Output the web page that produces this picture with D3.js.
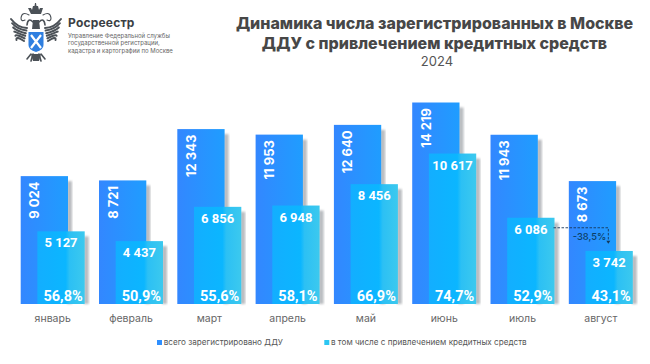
<!DOCTYPE html>
<html>
<head>
<meta charset="utf-8">
<script src="https://cdn.jsdelivr.net/npm/d3@7"></script>
<style>
    html, body {margin: 0; padding: 0; background: #fff;}
    svg {display: block; font-family: Inter, Roboto, sans-serif;}
</style>
</head>
<body>
<script>
const months = ['январь', 'февраль', 'март', 'апрель', 'май', 'июнь', 'июль', 'август'];
const total = [9024, 8721, 12343, 11953, 12640, 14219, 11943, 8673];
const credit = [5127, 4437, 6856, 6948, 8456, 10617, 6086, 3742];
const shares = [56.8, 50.9, 55.6, 58.1, 66.9, 74.7, 52.9, 43.1];
const legendLabels = ['всего зарегистрировано ДДУ', 'в том числе с привлечением кредитных средств'];
const orgLines = ['Управление Федеральной службы', 'государственной регистрации,', 'кадастра и картографии по Москве'];
const change = -38.5;

const dim = {width: 650, height: 364, base: 304, barWidth: 47.3, offset: 16.7};
const svg = d3.select('body').append('svg').attr('width', dim.width).attr('height', dim.height);

const locale = d3.formatLocale({decimal: ',', thousands: ' ', grouping: [3], currency: ['', ''], minus: '-'});
const fmt = locale.format(',d');
const pct = locale.format('.1f');

const x = d3.scaleBand().domain(months).range([20.7, 633.1]).paddingInner(0.179).paddingOuter(0).align(0);
const y = d3.scaleLinear().domain([0, 14219]).range([dim.base, 102.5]);

// Gradients and shadow blur
const defs = svg.append('defs');
const bigGrad = defs.append('linearGradient').attr('id', 'bigFill').attr('x1', 0).attr('x2', 1).attr('y1', 0).attr('y2', 0);
[[0, '#3387ff'], [1, '#1f9dff']].forEach(s =>
    bigGrad.append('stop').attr('offset', s[0]).attr('stop-color', s[1]));
const smallGrad = defs.append('linearGradient').attr('id', 'smallFill').attr('x1', 0).attr('x2', 1).attr('y1', 0).attr('y2', 0);
[[0, '#13aeff'], [0.6, '#0bb6ff'], [0.68, '#2cc0f4'], [1, '#3cc9ee']].forEach(s =>
    smallGrad.append('stop').attr('offset', s[0]).attr('stop-color', s[1]));
defs.append('filter').attr('id', 'soft').append('feGaussianBlur').attr('stdDeviation', 1);

// Bars
const group = svg.selectAll('g.month').data(months).join('g').attr('class', 'month')
    .attr('transform', d => `translate(${x(d)},0)`);

group.append('rect').attr('class', 'shadow')
    .attr('x', dim.barWidth - 1).attr('width', 5)
    .attr('y', (d, i) => y(total[i]) + 5).attr('height', (d, i) => dim.base - y(total[i]) - 5)
    .attr('fill', '#b9bcc0').attr('filter', 'url(#soft)');
group.append('rect').attr('class', 'total')
    .attr('width', dim.barWidth)
    .attr('y', (d, i) => y(total[i])).attr('height', (d, i) => dim.base - y(total[i]))
    .attr('fill', 'url(#bigFill)');
group.append('rect').attr('class', 'shadow')
    .attr('x', dim.offset + dim.barWidth - 1).attr('width', 5)
    .attr('y', (d, i) => y(credit[i]) + 5).attr('height', (d, i) => dim.base - y(credit[i]) - 5)
    .attr('fill', '#b9bcc0').attr('filter', 'url(#soft)');
group.append('rect').attr('class', 'credit')
    .attr('x', dim.offset).attr('width', dim.barWidth)
    .attr('y', (d, i) => y(credit[i])).attr('height', (d, i) => dim.base - y(credit[i]))
    .attr('fill', 'url(#smallFill)');

// Value labels
group.append('text')
    .attr('transform', (d, i) => `translate(18.5,${y(total[i]) + 5.5}) rotate(-90)`)
    .attr('text-anchor', 'end')
    .attr('font-size', 13).attr('font-weight', 700).attr('fill', '#fff')
    .text((d, i) => fmt(total[i]));
group.append('text')
    .attr('x', dim.offset + dim.barWidth / 2).attr('y', (d, i) => y(credit[i]) + 16)
    .attr('text-anchor', 'middle')
    .attr('font-family', 'Roboto').attr('font-size', 13).attr('font-weight', 700).attr('fill', '#fff')
    .text((d, i) => fmt(credit[i]));
group.append('text')
    .attr('x', dim.offset + dim.barWidth / 2 + 2).attr('y', dim.base - 3)
    .attr('text-anchor', 'middle')
    .attr('font-family', 'Roboto').attr('font-size', 14.5).attr('font-weight', 700).attr('fill', '#fff')
    .text((d, i) => pct(shares[i]) + '%');

// Month axis
group.append('text')
    .attr('x', (dim.offset + dim.barWidth) / 2).attr('y', 322)
    .attr('text-anchor', 'middle')
    .attr('font-size', 10.5).attr('fill', '#666').text(d => d);

// Change annotation July -> August
const jul = x('июль') + dim.offset + dim.barWidth - 1;
const aug = x('август') + 39.5;
const lineY = y(credit[6]) + 10;
svg.append('path')
    .attr('d', `M${jul},${lineY}H${aug}V${lineY + 14}`)
    .attr('fill', 'none').attr('stroke', '#16385a').attr('stroke-width', 0.9).attr('stroke-dasharray', '2.5 1.5');
svg.append('path')
    .attr('d', `M${aug - 2},${lineY + 13}h4l-2,3z`).attr('fill', '#16385a');
svg.append('text')
    .attr('x', x('август') + 4).attr('y', lineY + 12)
    .attr('font-size', 9.3).attr('font-weight', 500).attr('fill', '#0b3f66')
    .text(pct(change) + '%');

// Legend
const legend = svg.selectAll('g.legend').data(legendLabels).join('g').attr('class', 'legend')
    .attr('transform', (d, i) => `translate(${[157, 324.3][i]},345)`);
legend.append('rect').attr('width', 5).attr('height', 5).attr('y', -5)
    .attr('fill', (d, i) => ['#2f8fff', '#2cc6f2'][i]);
legend.append('text').attr('x', 6.7).attr('y', 0)
    .attr('font-size', 8.15).attr('fill', '#555').text(d => d);

// Title
const title = svg.append('g').attr('text-anchor', 'middle').attr('fill', '#474747');
title.append('text').attr('x', 434.5).attr('y', 29).attr('font-size', 16).attr('font-weight', 800)
    .text('Динамика числа зарегистрированных в Москве');
title.append('text').attr('x', 434.5).attr('y', 48.5).attr('font-size', 16).attr('font-weight', 800)
    .text('ДДУ с привлечением кредитных средств');
title.append('text').attr('x', 437).attr('y', 65.5).attr('font-size', 13).attr('font-weight', 400).attr('fill', '#555')
    .text('2024');

// Logo: simplified emblem
const logo = svg.append('g').attr('transform', 'translate(36,0)');
[1, -1].forEach(s => {
    const wing = logo.append('g').attr('transform', `scale(${s},1)`)
        .attr('fill', 'none').attr('stroke', '#4b5157').attr('stroke-linecap', 'round');
    d3.range(6).forEach(i => {
        wing.append('path').attr('stroke-width', 2)
            .attr('d', `M${9 + i * 0.6},${28 + i * 2.6}Q${18 + i * 0.5},${28 + i * 1.5} ${25 - i * 1.1},${19 + i * 4.2}`);
    });
    wing.append('path').attr('stroke-width', 1.6).attr('d', 'M3,22Q8,17 9,25');
    wing.append('path').attr('stroke-width', 1.1).attr('d', 'M7,15Q14,11 15,18Q15,22 11,20');
    wing.append('path').attr('stroke-width', 1.6).attr('d', 'M5,54L9,59M3,54L5,61');
});
logo.append('path').attr('d', 'M-5,14h10l2,-6h-3l-1,2l-1,-4h-1.5l-.5,-3h-1l-.5,3h-1.5l-1,4l-1,-2h-3z').attr('fill', '#4b5157');
logo.append('path').attr('d', 'M-3,20h6l1,9h-8z').attr('fill', '#4b5157');
logo.append('path').attr('d', 'M-7.5,32h15v13q0,5 -7.5,7q-7.5,-2 -7.5,-7z').attr('fill', '#2f7fe0');
logo.append('path').attr('d', 'M-5,35L5,48M5,35L-5,48').attr('stroke', '#fff').attr('stroke-width', 2.2);
logo.append('path').attr('d', 'M-5,54h10l-2,7h-6z').attr('fill', '#4b5157');

svg.append('text').attr('x', 68).attr('y', 27).attr('font-size', 12).attr('font-weight', 700)
    .attr('fill', '#3b3f44').attr('letter-spacing', 0.2).text('Росреестр');
svg.selectAll('text.org').data(orgLines).join('text').attr('class', 'org')
    .attr('x', 68).attr('y', (d, i) => 37.5 + i * 7.5)
    .attr('font-size', 6).attr('fill', '#666').text(d => d);
</script>
</body>
</html>
